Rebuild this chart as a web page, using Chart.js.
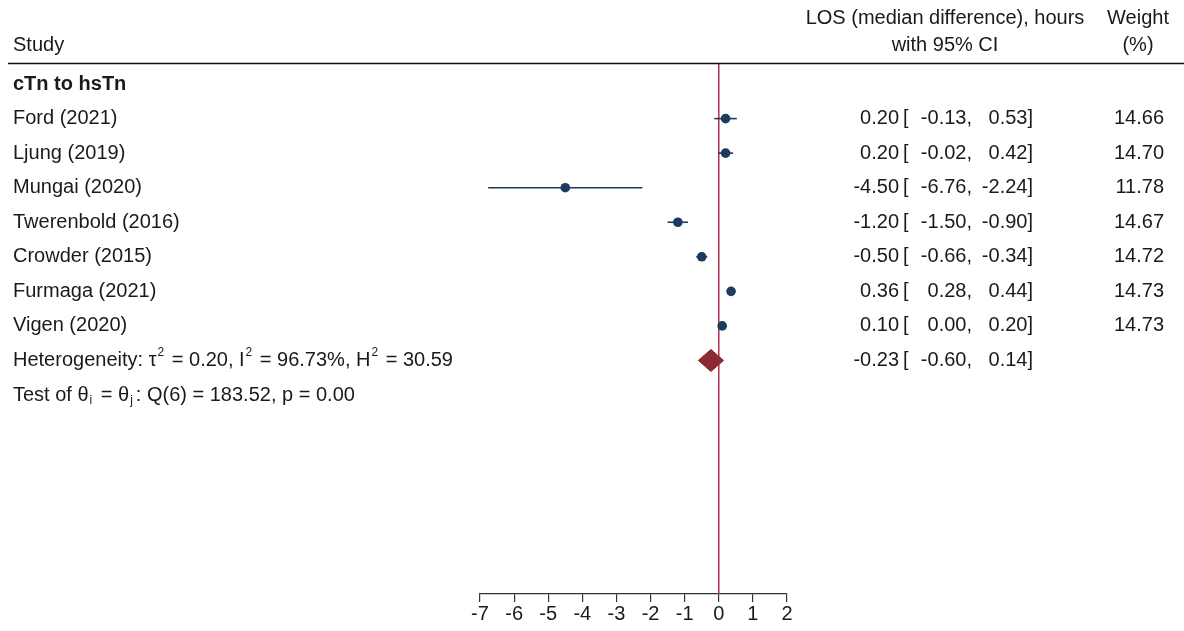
<!DOCTYPE html>
<html>
<head>
<meta charset="utf-8">
<script src="https://cdn.jsdelivr.net/npm/chart.js@4.4.1/dist/chart.umd.min.js"></script>
<style>
html,body{margin:0;padding:0;background:#fff;}
canvas{display:block;}
</style>
</head>
<body>
<canvas id="c" width="1184" height="631"></canvas>
<script>
// ---- data ----
const groupLabel = 'cTn to hsTn';
const studies = ['Ford (2021)', 'Ljung (2019)', 'Mungai (2020)', 'Twerenbold (2016)', 'Crowder (2015)', 'Furmaga (2021)', 'Vigen (2020)'];
const estimates = [0.20, 0.20, -4.50, -1.20, -0.50, 0.36, 0.10];
const lowerCI = [-0.13, -0.02, -6.76, -1.50, -0.66, 0.28, 0.00];
const upperCI = [0.53, 0.42, -2.24, -0.90, -0.34, 0.44, 0.20];
const weights = [14.66, 14.70, 11.78, 14.67, 14.72, 14.73, 14.73];
const overallEst = -0.23;
const overallLo = -0.60;
const overallHi = 0.14;
const xTicks = [-7, -6, -5, -4, -3, -2, -1, 0, 1, 2];

const FONT = '"Liberation Sans", Arial, sans-serif';
const TXT = '#1a1a1a';
const NAVY = '#1d3b5f';
const DIAMOND = '#8c2a31';
const REF = '#b4304e';

// rows: 0 group header, 1..7 studies, 8 overall, 9 test
const Y_MIN = -0.58, Y_MAX = 14.76;
const datasets = [];
// reference line at 0
datasets.push({type:'line', data:[{x:0,y:Y_MIN},{x:0,y:Y_MAX}], borderColor:REF, borderWidth:1.5, pointRadius:0, fill:false, order:5});
// CI lines
studies.forEach((s,i)=>{
  datasets.push({type:'line', data:[{x:lowerCI[i],y:i+1},{x:upperCI[i],y:i+1}], borderColor:NAVY, borderWidth:1.6, pointRadius:0, fill:false, order:3});
});
// point estimates
datasets.push({type:'scatter', data:estimates.map((e,i)=>({x:e,y:i+1})), pointRadius:4.8, pointBackgroundColor:NAVY, pointBorderColor:NAVY, pointBorderWidth:0, order:1});
// overall diamond
const dh = 0.32;
datasets.push({type:'line', data:[{x:overallLo,y:8},{x:overallEst,y:8-dh},{x:overallHi,y:8},{x:overallEst,y:8+dh},{x:overallLo,y:8}],
  borderColor:DIAMOND, backgroundColor:DIAMOND, borderWidth:1, pointRadius:0, fill:'shape', tension:0, order:2});

function drawSeg(ctx, x, y, parts){
  // parts: [text, mode] mode: 'n','sup','sub'
  let cx = x;
  parts.forEach(([t,m])=>{
    if(m==='n'){ ctx.font = '20px '+FONT; ctx.fillText(t,cx,y); cx += ctx.measureText(t).width; }
    else if(m==='sup'){ ctx.font = '12px '+FONT; ctx.fillText(t,cx+1,y-8); cx += ctx.measureText(t).width+3; }
    else { ctx.font = '12px '+FONT; ctx.fillText(t,cx+1,y+6); cx += ctx.measureText(t).width+4; }
  });
}

const textPlugin = {
  id:'forestText',
  afterDraw(chart){
    const ctx = chart.ctx;
    const ys = chart.scales.y;
    ctx.save();
    ctx.fillStyle = TXT;
    ctx.textBaseline = 'middle';
    // header
    ctx.font = '20px '+FONT;
    ctx.textAlign = 'left';
    ctx.fillText('Study', 13, 45);
    ctx.textAlign = 'center';
    ctx.fillText('LOS (median difference), hours', 945, 18);
    ctx.fillText('with 95% CI', 945, 45);
    ctx.fillText('Weight', 1138, 18);
    ctx.fillText('(%)', 1138, 45);
    // header rule
    ctx.strokeStyle = '#111';
    ctx.lineWidth = 1.5;
    ctx.beginPath(); ctx.moveTo(8, 63.5); ctx.lineTo(1184, 63.5); ctx.stroke();
    // group
    ctx.textAlign = 'left';
    ctx.font = 'bold 20px '+FONT;
    ctx.fillText(groupLabel, 13, ys.getPixelForValue(0));
    ctx.font = '20px '+FONT;
    const fmt = v => v.toFixed(2);
    const rowText = (y, e, l, h, w) => {
      ctx.textAlign = 'right';
      ctx.fillText(fmt(e), 899, y);
      ctx.textAlign = 'left';
      ctx.fillText('[', 903, y);
      ctx.textAlign = 'right';
      ctx.fillText(fmt(l)+',', 972, y);
      ctx.fillText(fmt(h)+']', 1033, y);
      if(w!==null) ctx.fillText(fmt(w), 1164, y);
    };
    studies.forEach((s,i)=>{
      const y = ys.getPixelForValue(i+1);
      ctx.textAlign = 'left';
      ctx.fillText(s, 13, y);
      rowText(y, estimates[i], lowerCI[i], upperCI[i], weights[i]);
    });
    const yo = ys.getPixelForValue(8);
    ctx.textAlign = 'left';
    drawSeg(ctx, 13, yo, [['Heterogeneity: τ','n'],['2','sup'],[' = 0.20, I','n'],['2','sup'],[' = 96.73%, H','n'],['2','sup'],[' = 30.59','n']]);
    ctx.font = '20px '+FONT;
    rowText(yo, overallEst, overallLo, overallHi, null);
    const yt = ys.getPixelForValue(9);
    ctx.textAlign = 'left';
    drawSeg(ctx, 13, yt, [['Test of θ','n'],['i','sub'],[' = θ','n'],['j','sub'],[': Q(6) = 183.52, p = 0.00','n']]);
    ctx.restore();
  }
};

new Chart(document.getElementById('c'), {
  data:{datasets},
  options:{
    responsive:false,
    animation:false,
    devicePixelRatio:1,
    layout:{padding:{left:480, right:397, top:64, bottom:0}},
    plugins:{legend:{display:false}, tooltip:{enabled:false}},
    scales:{
      x:{type:'linear', min:-7, max:2,
        afterBuildTicks(ax){ ax.ticks = xTicks.map(v=>({value:v})); },
        afterFit(ax){ ax.height = 37; },
        grid:{drawOnChartArea:false, drawTicks:true, tickLength:8, color:'#333', lineWidth:1.2},
        border:{display:true, color:'#333', width:1.2},
        ticks:{color:TXT, font:{family:FONT, size:20}, padding:0, maxRotation:0, autoSkip:false}
      },
      y:{type:'linear', display:false, min:Y_MIN, max:Y_MAX, reverse:true}
    }
  },
  plugins:[textPlugin]
});
</script>
</body>
</html>
